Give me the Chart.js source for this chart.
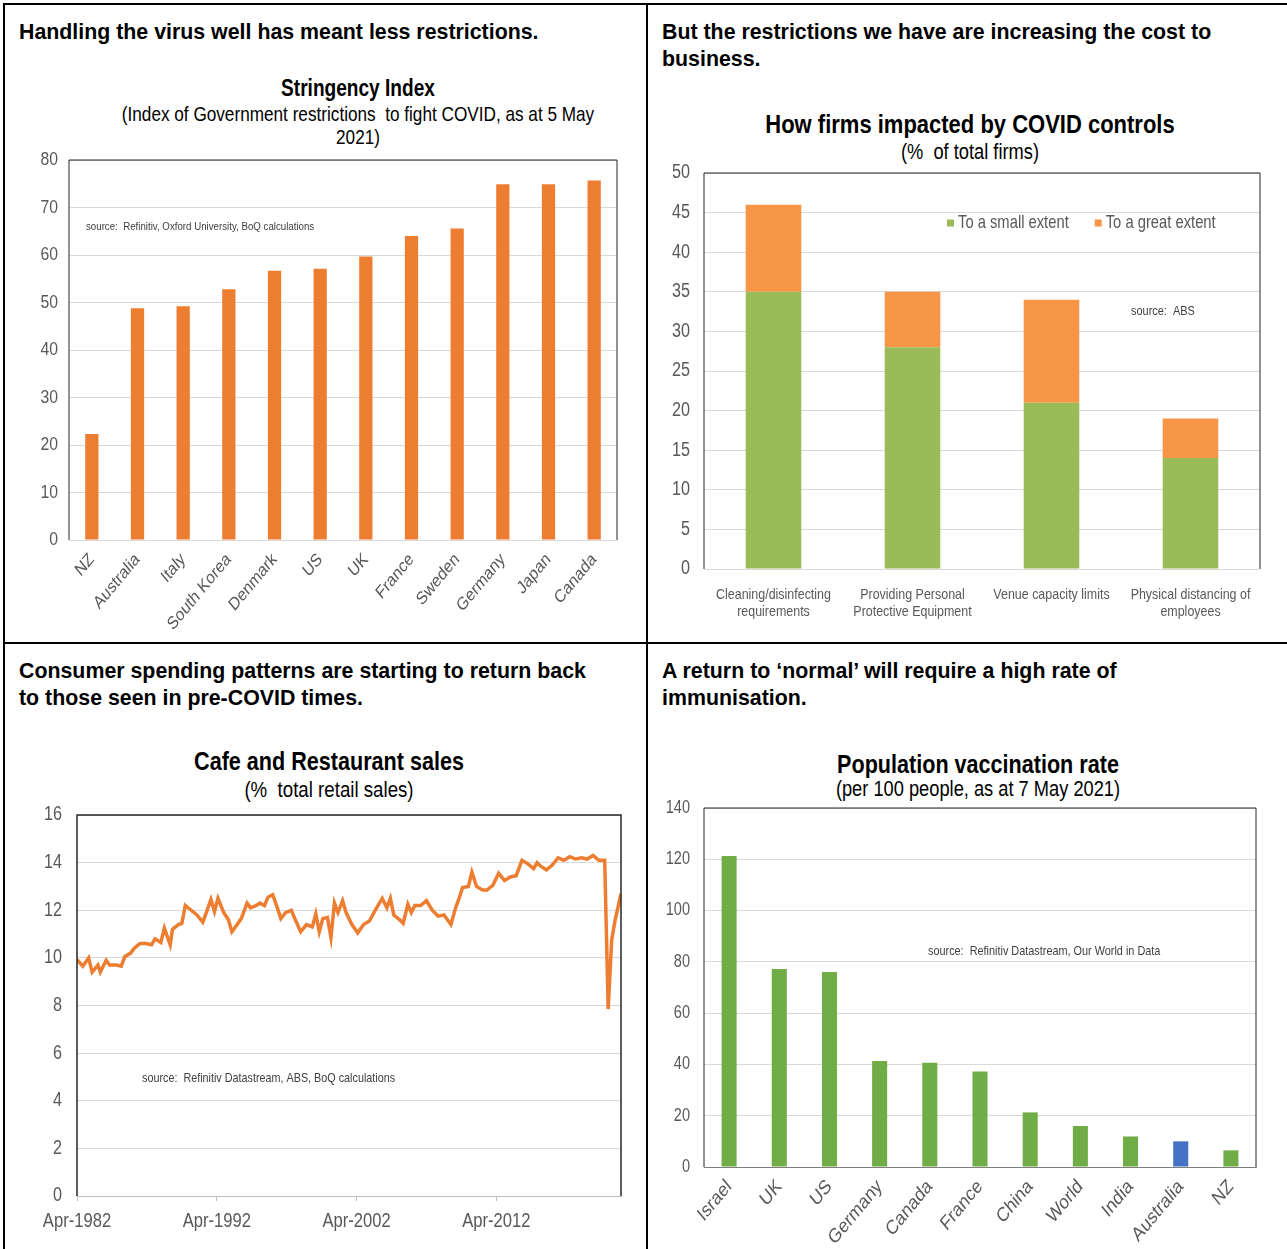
<!DOCTYPE html>
<html>
<head>
<meta charset="utf-8">
<script src="https://cdn.jsdelivr.net/npm/chart.js@4.4.0/dist/chart.umd.min.js"></script>
<style>
  body { margin: 0; width: 1287px; height: 1249px; overflow: hidden; background: #fff; position: relative;
         font-family: "Liberation Sans", Arial, sans-serif; }
  .rule { position: absolute; background: #000; z-index: 2; }
  .head { position: absolute; font-weight: bold; font-size: 21.35px; line-height: 27px; color: #000; white-space: nowrap; }
  /* chart titles: Arial squeezed to look like Arial Narrow */
  .ttl { position: absolute; width: 640px; text-align: center; color: #000; white-space: pre;
         transform: scaleX(0.83); transform-origin: 50% 50%; }
  canvas { position: absolute; }
</style>
</head>
<body>
<!-- table rules -->
<div class="rule" style="left:3px;top:3px;width:2px;height:1246px"></div>
<div class="rule" style="left:3px;top:3px;width:1284px;height:2px"></div>
<div class="rule" style="left:646px;top:3px;width:2px;height:1246px"></div>
<div class="rule" style="left:3px;top:642px;width:1284px;height:2px"></div>

<!-- cell headings -->
<div class="head" style="left:19px;top:19px">Handling the virus well has meant less restrictions.</div>
<div class="head" style="left:662px;top:19px">But the restrictions we have are increasing the cost to<br>business.</div>
<div class="head" style="left:19px;top:658px">Consumer spending patterns are starting to return back<br>to those seen in pre-COVID times.</div>
<div class="head" style="left:662px;top:658px">A return to ‘normal’ will require a high rate of<br>immunisation.</div>

<!-- chart titles (centre x given by left + 320) -->
<div class="ttl" style="left:38px;top:74px;font-size:23px;line-height:28px;font-weight:bold">Stringency Index</div>
<div class="ttl" style="left:38px;top:102px;font-size:20.7px;line-height:23px">(Index of Government restrictions  to fight COVID, as at 5 May
2021)</div>

<div class="ttl" style="left:650px;top:108px;font-size:26.5px;line-height:32px;font-weight:bold">How firms impacted by COVID controls</div>
<div class="ttl" style="left:650px;top:139px;font-size:22px;line-height:26px">(%  of total firms)</div>

<div class="ttl" style="left:9px;top:746px;font-size:26px;line-height:30px;font-weight:bold">Cafe and Restaurant sales</div>
<div class="ttl" style="left:9px;top:777px;font-size:22.5px;line-height:26px">(%  total retail sales)</div>

<div class="ttl" style="left:658px;top:750px;font-size:26px;line-height:28px;font-weight:bold">Population vaccination rate</div>
<div class="ttl" style="left:658px;top:776px;font-size:22px;line-height:26px">(per 100 people, as at 7 May 2021)</div>

<canvas id="stringency" width="640" height="510" style="left:5px;top:130px"></canvas>
<canvas id="firms" width="637" height="497" style="left:650px;top:143px"></canvas>
<canvas id="cafe" width="640" height="464" style="left:5px;top:785px"></canvas>
<canvas id="vacc" width="637" height="471" style="left:650px;top:778px"></canvas>

<script>
// ---- data ----
const stringencyCountries = ['NZ', 'Australia', 'Italy', 'South Korea', 'Denmark', 'US', 'UK', 'France', 'Sweden', 'Germany', 'Japan', 'Canada'];
const stringencyValues = [22.3, 48.8, 49.2, 52.8, 56.7, 57.1, 59.7, 64.0, 65.6, 74.9, 74.9, 75.7];

const controlLabels = [['Cleaning/disinfecting', 'requirements'], ['Providing Personal', 'Protective Equipment'], 'Venue capacity limits', ['Physical distancing of', 'employees']];
const smallExtent = [35, 28, 21, 14];
const greatExtent = [11, 7, 13, 5];

// months counted from Apr-1982
const cafeMonths = [0, 5, 10, 13, 18, 20, 25, 28, 34, 38,
  41, 46, 49, 54, 59, 64, 67, 72, 75, 80,
  82, 87, 90, 93, 98, 103, 108, 111, 115, 118,
  121, 126, 130, 133, 136, 141, 146, 149, 154, 157,
  161, 164, 168, 172, 175, 179, 184, 187, 192, 197,
  202, 205, 208, 211, 215, 218, 221, 224, 228, 231,
  236, 241, 246, 251, 256, 262, 266, 269, 272, 277,
  280, 284, 287, 290, 295, 300, 305, 310, 315, 318,
  321, 325, 328, 331, 336, 339, 343, 348, 352, 357,
  362, 367, 372, 377, 382, 387, 392, 395, 398, 403,
  408, 413, 418, 423, 428, 433, 438, 443, 448, 453,
  456, 459, 462, 467];
const cafeShare = [9.93, 9.65, 10.0, 9.4, 9.7, 9.4, 9.9, 9.7, 9.7, 9.65,
  10.05, 10.2, 10.4, 10.6, 10.6, 10.55, 10.8, 10.65, 11.25, 10.55,
  11.2, 11.4, 11.45, 12.2, 12.0, 11.8, 11.5, 11.9, 12.45, 11.95,
  12.5, 11.9, 11.6, 11.1, 11.3, 11.65, 12.3, 12.1, 12.2, 12.3,
  12.2, 12.55, 12.65, 12.1, 11.65, 11.9, 12.0, 11.65, 11.1, 11.4,
  11.3, 11.85, 11.1, 11.65, 11.7, 10.85, 12.3, 11.9, 12.4, 11.9,
  11.4, 11.05, 11.4, 11.55, 12.0, 12.5, 12.1, 12.5, 11.8, 11.6,
  11.45, 12.25, 11.9, 12.2, 12.2, 12.4, 12.0, 11.75, 11.8, 11.6,
  11.4, 12.1, 12.5, 12.95, 13.0, 13.6, 13.0, 12.85, 12.85, 13.05,
  13.55, 13.25, 13.4, 13.45, 14.1, 13.95, 13.75, 14.0, 13.85, 13.7,
  13.9, 14.2, 14.1, 14.25, 14.15, 14.2, 14.15, 14.3, 14.1, 14.1,
  7.85, 10.75, 11.6, 12.7];
const cafeTickLabels = ['Apr-1982', 'Apr-1992', 'Apr-2002', 'Apr-2012'];

const vaccCountries = ['Israel', 'UK', 'US', 'Germany', 'Canada', 'France', 'China', 'World', 'India', 'Australia', 'NZ'];
const vaccRates = [121.3, 77.2, 76.0, 41.3, 40.7, 37.2, 21.3, 16.0, 11.9, 10.0, 6.5];

// ---- shared bits ----
const SQUEEZE = 0.83;   // the original charts are Arial Narrow-ish
const TICK = '#595959';
const GRID = '#d9d9d9';
Chart.defaults.font.family = '"Liberation Sans", Arial, sans-serif';
Chart.defaults.animation = false;

// squeeze every piece of canvas text horizontally around its anchor point
const narrow = {
  id: 'narrow',
  beforeInit(chart) {
    const ctx = chart.ctx, fill = ctx.fillText;
    ctx.fillText = function (text, x, y) {
      const m = this.getTransform();
      const p = m.transformPoint(new DOMPoint(x, y));
      this.save();
      this.setTransform(new DOMMatrix().translate(p.x, p.y).scale(SQUEEZE, 1).translate(-p.x, -p.y).multiply(m));
      fill.call(this, text, x, y);
      this.restore();
    };
  }
};

// box round the plot area (left, top, right)
const frame = {
  id: 'frame',
  afterDatasetsDraw(chart, args, opts) {
    if (!opts.show) return;
    const a = chart.chartArea, ctx = chart.ctx;
    ctx.save();
    ctx.strokeStyle = '#262626';
    ctx.lineWidth = opts.width || 1;
    ctx.beginPath();
    ctx.moveTo(a.left, a.bottom);
    ctx.lineTo(a.left, a.top);
    ctx.lineTo(a.right, a.top);
    ctx.lineTo(a.right, a.bottom);
    ctx.stroke();
    ctx.restore();
  }
};

// small "source:" note inside the plot
const note = {
  id: 'note',
  afterDatasetsDraw(chart, args, opts) {
    if (!opts.text) return;
    const a = chart.chartArea, ctx = chart.ctx;
    ctx.save();
    ctx.font = (opts.size || 12) + 'px ' + Chart.defaults.font.family;
    ctx.fillStyle = '#404040';
    ctx.textBaseline = 'middle';
    ctx.fillText(opts.text, a.left + opts.dx, a.top + opts.dy);
    ctx.restore();
  }
};

// legend sitting inside the plot area
const innerLegend = {
  id: 'innerLegend',
  afterDatasetsDraw(chart, args, opts) {
    if (!opts.show) return;
    const a = chart.chartArea, ctx = chart.ctx;
    let x = a.left + opts.dx;
    const y = a.top + opts.dy;
    ctx.save();
    ctx.font = opts.size + 'px ' + Chart.defaults.font.family;
    ctx.textBaseline = 'middle';
    chart.data.datasets.forEach(ds => {
      ctx.fillStyle = ds.backgroundColor;
      ctx.fillRect(x, y - 3.5, 7, 7);
      ctx.fillStyle = TICK;
      ctx.fillText(ds.label, x + 11, y);
      x += 11 + ctx.measureText(ds.label).width * SQUEEZE + 26;
    });
    ctx.restore();
  }
};
Chart.register(narrow, frame, note, innerLegend);

function yScale(max, step, size, pad, width) {
  return {
    min: 0, max: max,
    ticks: { stepSize: step, color: TICK, font: { size: size }, padding: pad },
    grid: { color: GRID, drawTicks: false },
    border: { display: false },
    afterFit(s) { s.width = width; }
  };
}

// ---- chart 1: stringency ----
new Chart(document.getElementById('stringency'), {
  type: 'bar',
  data: {
    labels: stringencyCountries,
    datasets: [{ data: stringencyValues, backgroundColor: '#ED7D31', barPercentage: 0.29, categoryPercentage: 1 }]
  },
  options: {
    responsive: false,
    layout: { padding: { left: 20, right: 28, top: 30, bottom: 5 } },
    plugins: {
      legend: { display: false }, tooltip: { enabled: false },
      frame: { show: true },
      note: { text: 'source:  Refinitiv, Oxford University, BoQ calculations', size: 11.7, dx: 17, dy: 67 }
    },
    scales: {
      x: {
        ticks: { color: TICK, font: { size: 18 }, minRotation: 45, maxRotation: 45, padding: 1, autoSkip: false },
        grid: { display: false },
        border: { display: false },
        afterFit(s) { s.height = 95; }
      },
      y: yScale(80, 10, 19, 11, 44)
    }
  }
});

// ---- chart 2: firms ----
new Chart(document.getElementById('firms'), {
  type: 'bar',
  data: {
    labels: controlLabels,
    datasets: [
      { label: 'To a small extent', data: smallExtent, backgroundColor: '#9BBB59', barPercentage: 0.4, categoryPercentage: 1 },
      { label: 'To a great extent', data: greatExtent, backgroundColor: '#F79646', barPercentage: 0.4, categoryPercentage: 1 }
    ]
  },
  options: {
    responsive: false,
    layout: { padding: { left: 14, right: 27, top: 30, bottom: 5 } },
    plugins: {
      legend: { display: false }, tooltip: { enabled: false },
      innerLegend: { show: true, dx: 243, dy: 50, size: 17.8 },
      frame: { show: true },
      note: { text: 'source:  ABS', size: 13.2, dx: 427, dy: 138 }
    },
    scales: {
      x: {
        stacked: true,
        ticks: { color: TICK, font: { size: 15, lineHeight: 1.1 }, maxRotation: 0, padding: 10, autoSkip: false },
        grid: { display: false },
        border: { display: false },
        afterFit(s) { s.height = 66; }
      },
      y: Object.assign(yScale(50, 5, 19.5, 14, 40), { stacked: true })
    }
  }
});

// ---- chart 3: cafe share ----
new Chart(document.getElementById('cafe'), {
  type: 'line',
  data: {
    datasets: [{
      data: cafeMonths.map((m, i) => ({ x: m, y: cafeShare[i] })),
      borderColor: '#ED7D31', borderWidth: 3.5, pointRadius: 0, tension: 0
    }]
  },
  options: {
    responsive: false,
    layout: { padding: { left: 32, right: 24, top: 30, bottom: 3 } },
    plugins: {
      legend: { display: false }, tooltip: { enabled: false },
      frame: { show: true, width: 1.5 },
      note: { text: 'source:  Refinitiv Datastream, ABS, BoQ calculations', size: 13, dx: 65, dy: 263 }
    },
    scales: {
      x: {
        type: 'linear', min: 0, max: 467,
        afterBuildTicks(s) { s.ticks = cafeTickLabels.map((t, i) => ({ value: i * 120 })); },
        ticks: {
          color: TICK, font: { size: 20 }, padding: 8, maxRotation: 0, autoSkip: false,
          callback: v => cafeTickLabels[Math.round(v / 120)]
        },
        grid: { drawOnChartArea: false, drawTicks: true, tickLength: 5, color: '#bfbfbf' },
        border: { display: true, color: '#bfbfbf' },
        afterFit(s) { s.height = 50; }
      },
      y: yScale(16, 2, 19.5, 15, 40)
    }
  }
});

// ---- chart 4: vaccination ----
new Chart(document.getElementById('vacc'), {
  type: 'bar',
  data: {
    labels: vaccCountries,
    datasets: [{
      data: vaccRates,
      backgroundColor: vaccCountries.map(c => c === 'Australia' ? '#4472C4' : '#70AD47'),
      barPercentage: 0.3, categoryPercentage: 1
    }]
  },
  options: {
    responsive: false,
    layout: { padding: { left: 10, right: 31, top: 30, bottom: 2 } },
    plugins: {
      legend: { display: false }, tooltip: { enabled: false },
      frame: { show: true },
      note: { text: 'source:  Refinitiv Datastream, Our World in Data', size: 13.1, dx: 224, dy: 143 }
    },
    scales: {
      x: {
        ticks: { color: TICK, font: { size: 20 }, minRotation: 45, maxRotation: 45, padding: 0, autoSkip: false },
        grid: { display: false },
        border: { display: true, color: '#7f7f7f' },
        afterFit(s) { s.height = 80; }
      },
      y: yScale(140, 20, 17.5, 14, 44)
    }
  }
});
</script>
</body>
</html>
